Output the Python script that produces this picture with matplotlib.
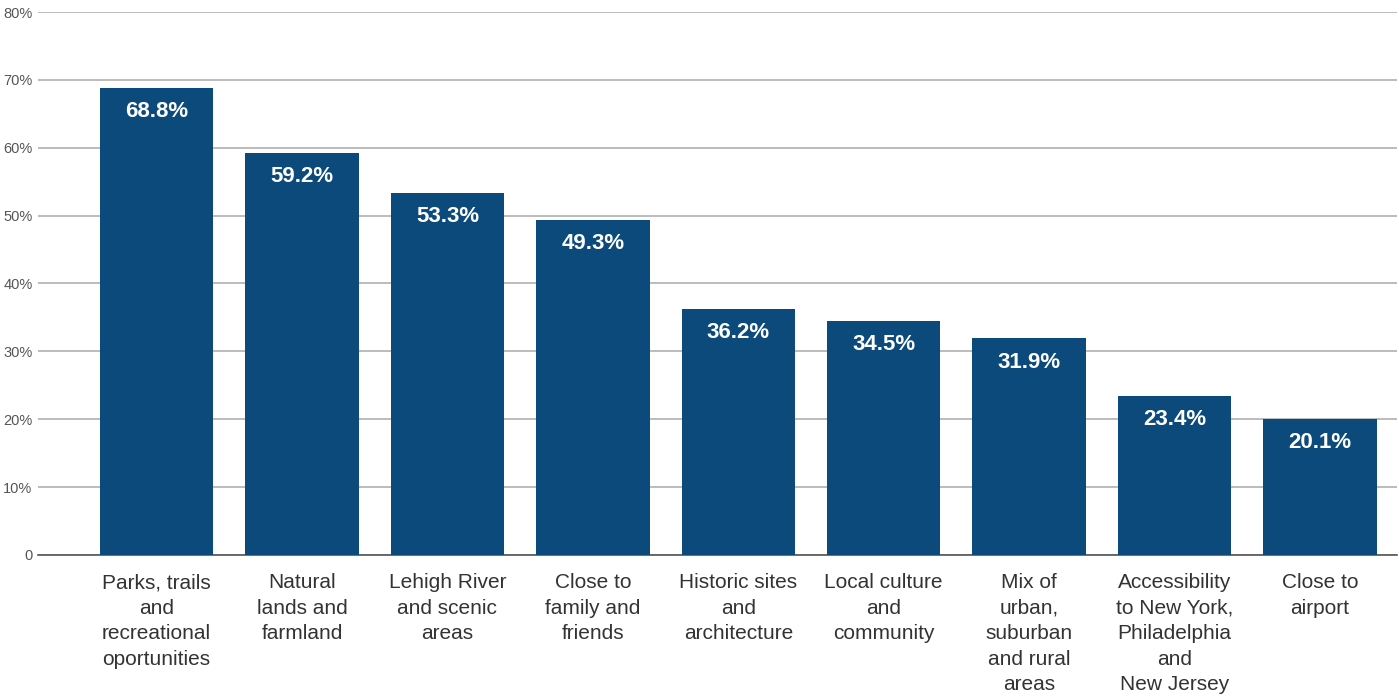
import numpy as np
import matplotlib
matplotlib.use("Agg")
import matplotlib.pyplot as plt
from matplotlib.ticker import FuncFormatter

plt.rcParams['font.family'] = ['Liberation Sans', 'DejaVu Sans']

categories = [
    "Parks, trails\nand\nrecreational\noportunities",
    "Natural\nlands and\nfarmland",
    "Lehigh River\nand scenic\nareas",
    "Close to\nfamily and\nfriends",
    "Historic sites\nand\narchitecture",
    "Local culture\nand\ncommunity",
    "Mix of\nurban,\nsuburban\nand rural\nareas",
    "Accessibility\nto New York,\nPhiladelphia\nand\nNew Jersey",
    "Close to\nairport",
]
values = [68.8, 59.2, 53.3, 49.3, 36.2, 34.5, 31.9, 23.4, 20.1]
yticks = [0, 10, 20, 30, 40, 50, 60, 70, 80]

fig = plt.figure(figsize=(13.99, 6.98), dpi=100)
ax = fig.add_axes([0.0272, 0.2049, 0.9714, 0.7779])

x = np.arange(len(values))
bars = ax.bar(x, values, width=0.78, color="#0c4a7b", zorder=3)

for b, v in zip(bars, values):
    ax.annotate(f"{v:.1f}%", (b.get_x() + b.get_width() / 2, v),
                xytext=(0, -17), textcoords="offset points", ha="center", va="center",
                color="white", fontsize=16, fontweight="bold", zorder=4)

ax.set_xlim(-0.815, 8.53)
ax.set_ylim(0, 80)
ax.set_yticks(yticks)
ax.yaxis.set_major_formatter(FuncFormatter(lambda v, p: "0" if v == 0 else f"{v:.0f}%"))
ax.grid(axis="y", color="#b0b0b0", linewidth=1.2, zorder=0)
ax.set_xticks(x)
ax.set_xticklabels(categories, fontsize=15, color="#333333", linespacing=1.44)
ax.tick_params(axis="x", length=0, pad=13)
ax.tick_params(axis="y", length=0, pad=4, labelsize=10.5, labelcolor="#555555")
for s in ["top", "right", "left"]:
    ax.spines[s].set_visible(False)
ax.spines["bottom"].set_color("#555555")
ax.spines["bottom"].set_linewidth(1.2)

fig.savefig("out.png", dpi=100)
